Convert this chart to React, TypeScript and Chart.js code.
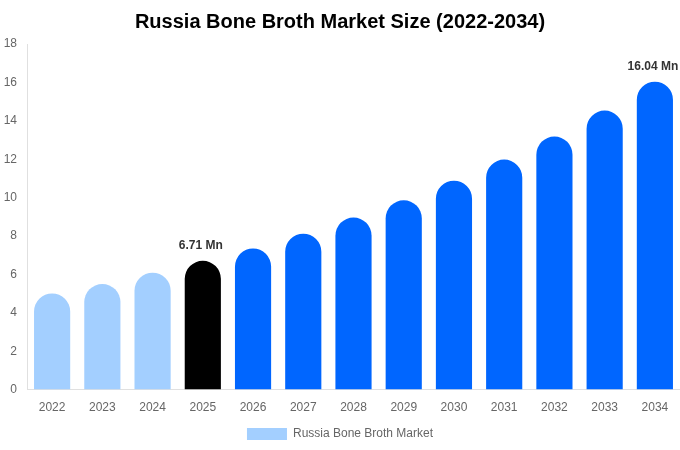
import React, { useEffect, useRef } from "react";
import { Chart, registerables } from "chart.js";

Chart.register(...registerables);

const categories = ["2022", "2023", "2024", "2025", "2026", "2027", "2028", "2029", "2030", "2031", "2032", "2033", "2034"];
const values = [5.01, 5.5, 6.09, 6.71, 7.35, 8.12, 8.96, 9.86, 10.88, 11.98, 13.18, 14.53, 16.04];
const barColors = ["#a3cfff", "#a3cfff", "#a3cfff", "#000000", "#0066ff", "#0066ff", "#0066ff", "#0066ff", "#0066ff", "#0066ff", "#0066ff", "#0066ff", "#0066ff"];
const labelledIndexes = [3, 12];
const seriesName = "Russia Bone Broth Market";
const titleText = "Russia Bone Broth Market Size (2022-2034)";

const FONT = "'Liberation Sans', Arial, sans-serif";

const valueLabelPlugin = {
  id: "valueLabels",
  afterDatasetsDraw(chart: any) {
    const ctx = chart.ctx;
    const meta = chart.getDatasetMeta(0);
    ctx.save();
    ctx.font = `bold 12px ${FONT}`;
    ctx.fillStyle = "#333333";
    ctx.textAlign = "center";
    ctx.textBaseline = "bottom";
    labelledIndexes.forEach((i) => {
      const el = meta.data[i];
      if (!el) return;
      ctx.fillText(`${values[i].toFixed(2)} Mn`, el.x - 2, el.y - 9);
    });
    ctx.restore();
  },
};

export default function App() {
  const ref = useRef<HTMLCanvasElement>(null);
  useEffect(() => {
    document.body.style.margin = "0";
    if (!ref.current) return;
    const chart = new Chart(ref.current, {
      type: "bar",
      data: {
        labels: categories,
        datasets: [
          {
            label: seriesName,
            data: values,
            backgroundColor: barColors,
            borderRadius: { topLeft: 100, topRight: 100, bottomLeft: 0, bottomRight: 0 },
            borderSkipped: false,
          },
        ],
      },
      options: {
        animation: false,
        responsive: false,
        maintainAspectRatio: false,
        layout: { padding: { left: 0, right: 0, top: 0, bottom: 0 } },
        plugins: {
          title: {
            display: true,
            text: titleText,
            color: "#000000",
            font: { family: FONT, size: 20, weight: "bold" },
            padding: { top: 10, bottom: 10 },
          },
          legend: {
            display: true,
            position: "bottom",
            labels: {
              color: "#666666",
              font: { family: FONT, size: 12 },
              boxWidth: 40,
              boxHeight: 12,
              padding: 2,
              generateLabels: () => [
                {
                  text: seriesName,
                  fillStyle: "#a3cfff",
                  strokeStyle: "#a3cfff",
                  lineWidth: 0,
                  hidden: false,
                  datasetIndex: 0,
                  fontColor: "#666666",
                },
              ],
            },
          },
          tooltip: { enabled: false },
        },
        scales: {
          x: {
            grid: { display: false, drawTicks: false },
            border: { display: true, color: "#e0e0e0" },
            ticks: { color: "#666666", font: { family: FONT, size: 12 }, padding: 11 },
          },
          y: {
            min: 0,
            max: 18,
            grid: { display: false, drawTicks: false },
            border: { display: true, color: "#e0e0e0" },
            ticks: { stepSize: 2, color: "#666666", font: { family: FONT, size: 12 }, padding: 10 },
            afterFit: (scale: any) => {
              scale.width = 27;
            },
          },
        },
      },
      plugins: [valueLabelPlugin],
    });
    return () => chart.destroy();
  }, []);
  return (
    <div style={{ width: 680, height: 450 }}>
      <canvas ref={ref} width={680} height={450} style={{ width: 680, height: 450, display: "block" }} />
    </div>
  );
}
